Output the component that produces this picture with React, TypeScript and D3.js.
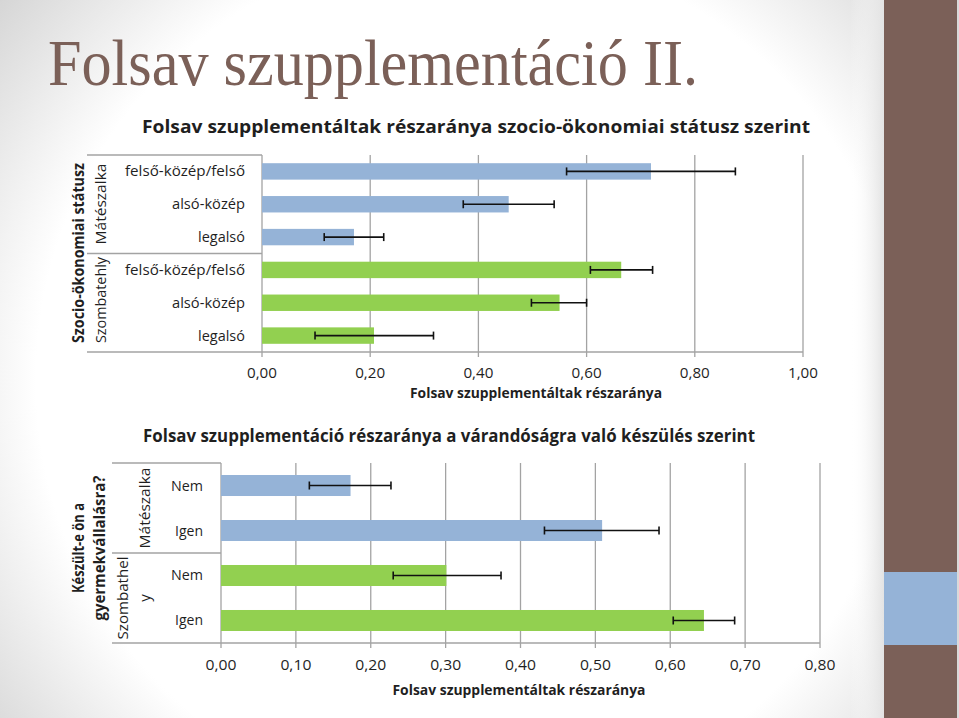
import React from "react";
import * as d3 from "d3";

// ---- Data ----
const topCategories = ["felső-közép/felső", "alsó-közép", "legalsó", "felső-közép/felső", "alsó-közép", "legalsó"];
const topGroups = ["Mátészalka", "Szombatehly"];
const topValues = [0.719, 0.456, 0.17, 0.664, 0.55, 0.207];
const topErrLow = [0.563, 0.372, 0.115, 0.607, 0.498, 0.098];
const topErrHigh = [0.875, 0.54, 0.225, 0.722, 0.6, 0.317];
const topTicks = [0, 0.2, 0.4, 0.6, 0.8, 1.0];

const botCategories = ["Nem", "Igen", "Nem", "Igen"];
const botValues = [0.173, 0.509, 0.301, 0.645];
const botErrLow = [0.118, 0.432, 0.23, 0.604];
const botErrHigh = [0.227, 0.585, 0.374, 0.686];
const botTicks = [0, 0.1, 0.2, 0.3, 0.4, 0.5, 0.6, 0.7, 0.8];

const BLUE = "#95b3d7";
const GREEN = "#92d050";
const GRID = "#a3a3a3";
const TXT = "#1f1f1f";
const SANS = "'Open Sans', 'Noto Sans', sans-serif";
const fmt = (v: number) => v.toFixed(2).replace(".", ",");

function Txt(props: any) {
  const { w, children, ...rest } = props;
  return (
    <text fontFamily={SANS} fill={TXT} {...(w ? { textLength: w, lengthAdjust: "spacingAndGlyphs" } : {})} {...rest}>
      {children}
    </text>
  );
}

export default function App() {
  // Top chart scales
  const xT = d3.scaleLinear().domain([0, 1]).range([262, 803]);
  const yT = d3.scaleBand<number>().domain(d3.range(topValues.length)).range([155, 352]).paddingInner(0.5).paddingOuter(0.25);
  // Bottom chart scales
  const xB = d3.scaleLinear().domain([0, 0.8]).range([221, 820]);
  const yB = d3.scaleBand<number>().domain(d3.range(botValues.length)).range([463, 643]).paddingInner(0.533).paddingOuter(0.2667);

  const topLabelW = [120, 73, 47, 120, 73, 47];

  return (
    <svg width={959} height={718} style={{ position: "absolute", left: 0, top: 0, display: "block" }}>
      <defs>
        <radialGradient id="bg" gradientUnits="userSpaceOnUse" cx={470} cy={380} r={620}>
          <stop offset="0.7" stopColor="#ffffff" />
          <stop offset="1" stopColor="#d2d2d2" />
        </radialGradient>
        <linearGradient id="strip" x1="0" x2="1" y1="0" y2="0">
          <stop offset="0" stopColor="#ffffff" stopOpacity="0" />
          <stop offset="1" stopColor="#e3e3e3" />
        </linearGradient>
      </defs>
      <rect x={0} y={0} width={959} height={718} fill="url(#bg)" />
      <rect x={850} y={0} width={34} height={718} fill="url(#strip)" />
      <rect x={884} y={0} width={73} height={718} fill="#7b6058" />
      <rect x={884} y={572} width={73} height={73} fill="#95b3d7" />
      <rect x={957} y={0} width={2} height={718} fill="#d9d9d9" />

      {/* Main title */}
      <text x={48} y={85} fontFamily="'Liberation Serif', 'DejaVu Serif', serif" fontSize={66} fill="#7b6058" textLength={650} lengthAdjust="spacingAndGlyphs">
        Folsav szupplementáció II.
      </text>

      {/* ---------- Top chart ---------- */}
      <Txt x={476} y={133} fontSize={17} fontWeight="bold" textAnchor="middle" w={668}>
        Folsav szupplementáltak részaránya szocio-ökonomiai státusz szerint
      </Txt>
      {topTicks.map((t) => (
        <line key={"tg" + t} x1={xT(t)} x2={xT(t)} y1={155} y2={357} stroke={GRID} strokeWidth={1.3} />
      ))}
      <line x1={xT(0)} x2={xT(1)} y1={352} y2={352} stroke={GRID} strokeWidth={1.3} />
      {/* category level lines */}
      {[155, (yT(2)! + yT(3)! + yT.bandwidth()) / 2, 352].map((y, i) => (
        <line key={"tl" + i} x1={87} x2={262} y1={y} y2={y} stroke={GRID} strokeWidth={1.3} />
      ))}
      {topValues.map((v, i) => (
        <rect key={"tb" + i} x={xT(0)} y={yT(i)} width={xT(v) - xT(0)} height={yT.bandwidth()} fill={i < 3 ? BLUE : GREEN} />
      ))}
      {topValues.map((v, i) => {
        const cy = yT(i)! + yT.bandwidth() / 2;
        return (
          <g key={"te" + i} stroke="#111" strokeWidth={1.6}>
            <line x1={xT(topErrLow[i])} x2={xT(topErrHigh[i])} y1={cy} y2={cy} />
            <line x1={xT(topErrLow[i])} x2={xT(topErrLow[i])} y1={cy - 4} y2={cy + 4} />
            <line x1={xT(topErrHigh[i])} x2={xT(topErrHigh[i])} y1={cy - 4} y2={cy + 4} />
          </g>
        );
      })}
      {topCategories.map((c, i) => (
        <Txt key={"tc" + i} x={245} y={yT(i)! + yT.bandwidth() / 2 + 5} fontSize={15} textAnchor="end" w={topLabelW[i]}>
          {c}
        </Txt>
      ))}
      <Txt transform={`translate(106,204) rotate(-90)`} fontSize={15} textAnchor="middle" w={81}>
        {topGroups[0]}
      </Txt>
      <Txt transform={`translate(106,300) rotate(-90)`} fontSize={15} textAnchor="middle" w={86}>
        {topGroups[1]}
      </Txt>
      <Txt transform={`translate(84,253) rotate(-90)`} fontSize={16} fontWeight="bold" textAnchor="middle" w={180}>
        Szocio-ökonomiai státusz
      </Txt>
      {topTicks.map((t) => (
        <Txt key={"tt" + t} x={xT(t)} y={378} fontSize={14} textAnchor="middle" w={30}>
          {fmt(t)}
        </Txt>
      ))}
      <Txt x={536} y={398} fontSize={14} fontWeight="bold" textAnchor="middle" w={252}>
        Folsav szupplementáltak részaránya
      </Txt>

      {/* ---------- Bottom chart ---------- */}
      <Txt x={449} y={442} fontSize={17} fontWeight="bold" textAnchor="middle" w={612}>
        Folsav szupplementáció részaránya a várandóságra való készülés szerint
      </Txt>
      {botTicks.map((t) => (
        <line key={"bg" + t} x1={xB(t)} x2={xB(t)} y1={463} y2={648} stroke={GRID} strokeWidth={1.3} />
      ))}
      <line x1={xB(0)} x2={xB(0.8)} y1={643} y2={643} stroke={GRID} strokeWidth={1.3} />
      {[463, (yB(1)! + yB(2)! + yB.bandwidth()) / 2, 643].map((y, i) => (
        <line key={"bl" + i} x1={112} x2={221} y1={y} y2={y} stroke={GRID} strokeWidth={1.3} />
      ))}
      {botValues.map((v, i) => (
        <rect key={"bb" + i} x={xB(0)} y={yB(i)} width={xB(v) - xB(0)} height={yB.bandwidth()} fill={i < 2 ? BLUE : GREEN} />
      ))}
      {botValues.map((v, i) => {
        const cy = yB(i)! + yB.bandwidth() / 2;
        return (
          <g key={"be" + i} stroke="#111" strokeWidth={1.6}>
            <line x1={xB(botErrLow[i])} x2={xB(botErrHigh[i])} y1={cy} y2={cy} />
            <line x1={xB(botErrLow[i])} x2={xB(botErrLow[i])} y1={cy - 4} y2={cy + 4} />
            <line x1={xB(botErrHigh[i])} x2={xB(botErrHigh[i])} y1={cy - 4} y2={cy + 4} />
          </g>
        );
      })}
      {botCategories.map((c, i) => (
        <Txt key={"bc" + i} x={203} y={yB(i)! + yB.bandwidth() / 2 + 5} fontSize={15} textAnchor="end" w={c === "Nem" ? 32 : 28}>
          {c}
        </Txt>
      ))}
      <Txt transform={`translate(150,508) rotate(-90)`} fontSize={15} textAnchor="middle" w={81}>
        Mátészalka
      </Txt>
      <Txt transform={`translate(128,598) rotate(-90)`} fontSize={15} textAnchor="middle" w={83}>
        Szombathel
      </Txt>
      <Txt transform={`translate(150,598) rotate(-90)`} fontSize={15} textAnchor="middle">
        y
      </Txt>
      <Txt transform={`translate(84,548) rotate(-90)`} fontSize={16} fontWeight="bold" textAnchor="middle" w={90}>
        Készült-e ön a
      </Txt>
      <Txt transform={`translate(105,548) rotate(-90)`} fontSize={16} fontWeight="bold" textAnchor="middle" w={145}>
        gyermekvállalásra?
      </Txt>
      {botTicks.map((t) => (
        <Txt key={"bt" + t} x={xB(t)} y={670} fontSize={14} textAnchor="middle" w={31}>
          {fmt(t)}
        </Txt>
      ))}
      <Txt x={519} y={695} fontSize={14} fontWeight="bold" textAnchor="middle" w={253}>
        Folsav szupplementáltak részaránya
      </Txt>
    </svg>
  );
}
